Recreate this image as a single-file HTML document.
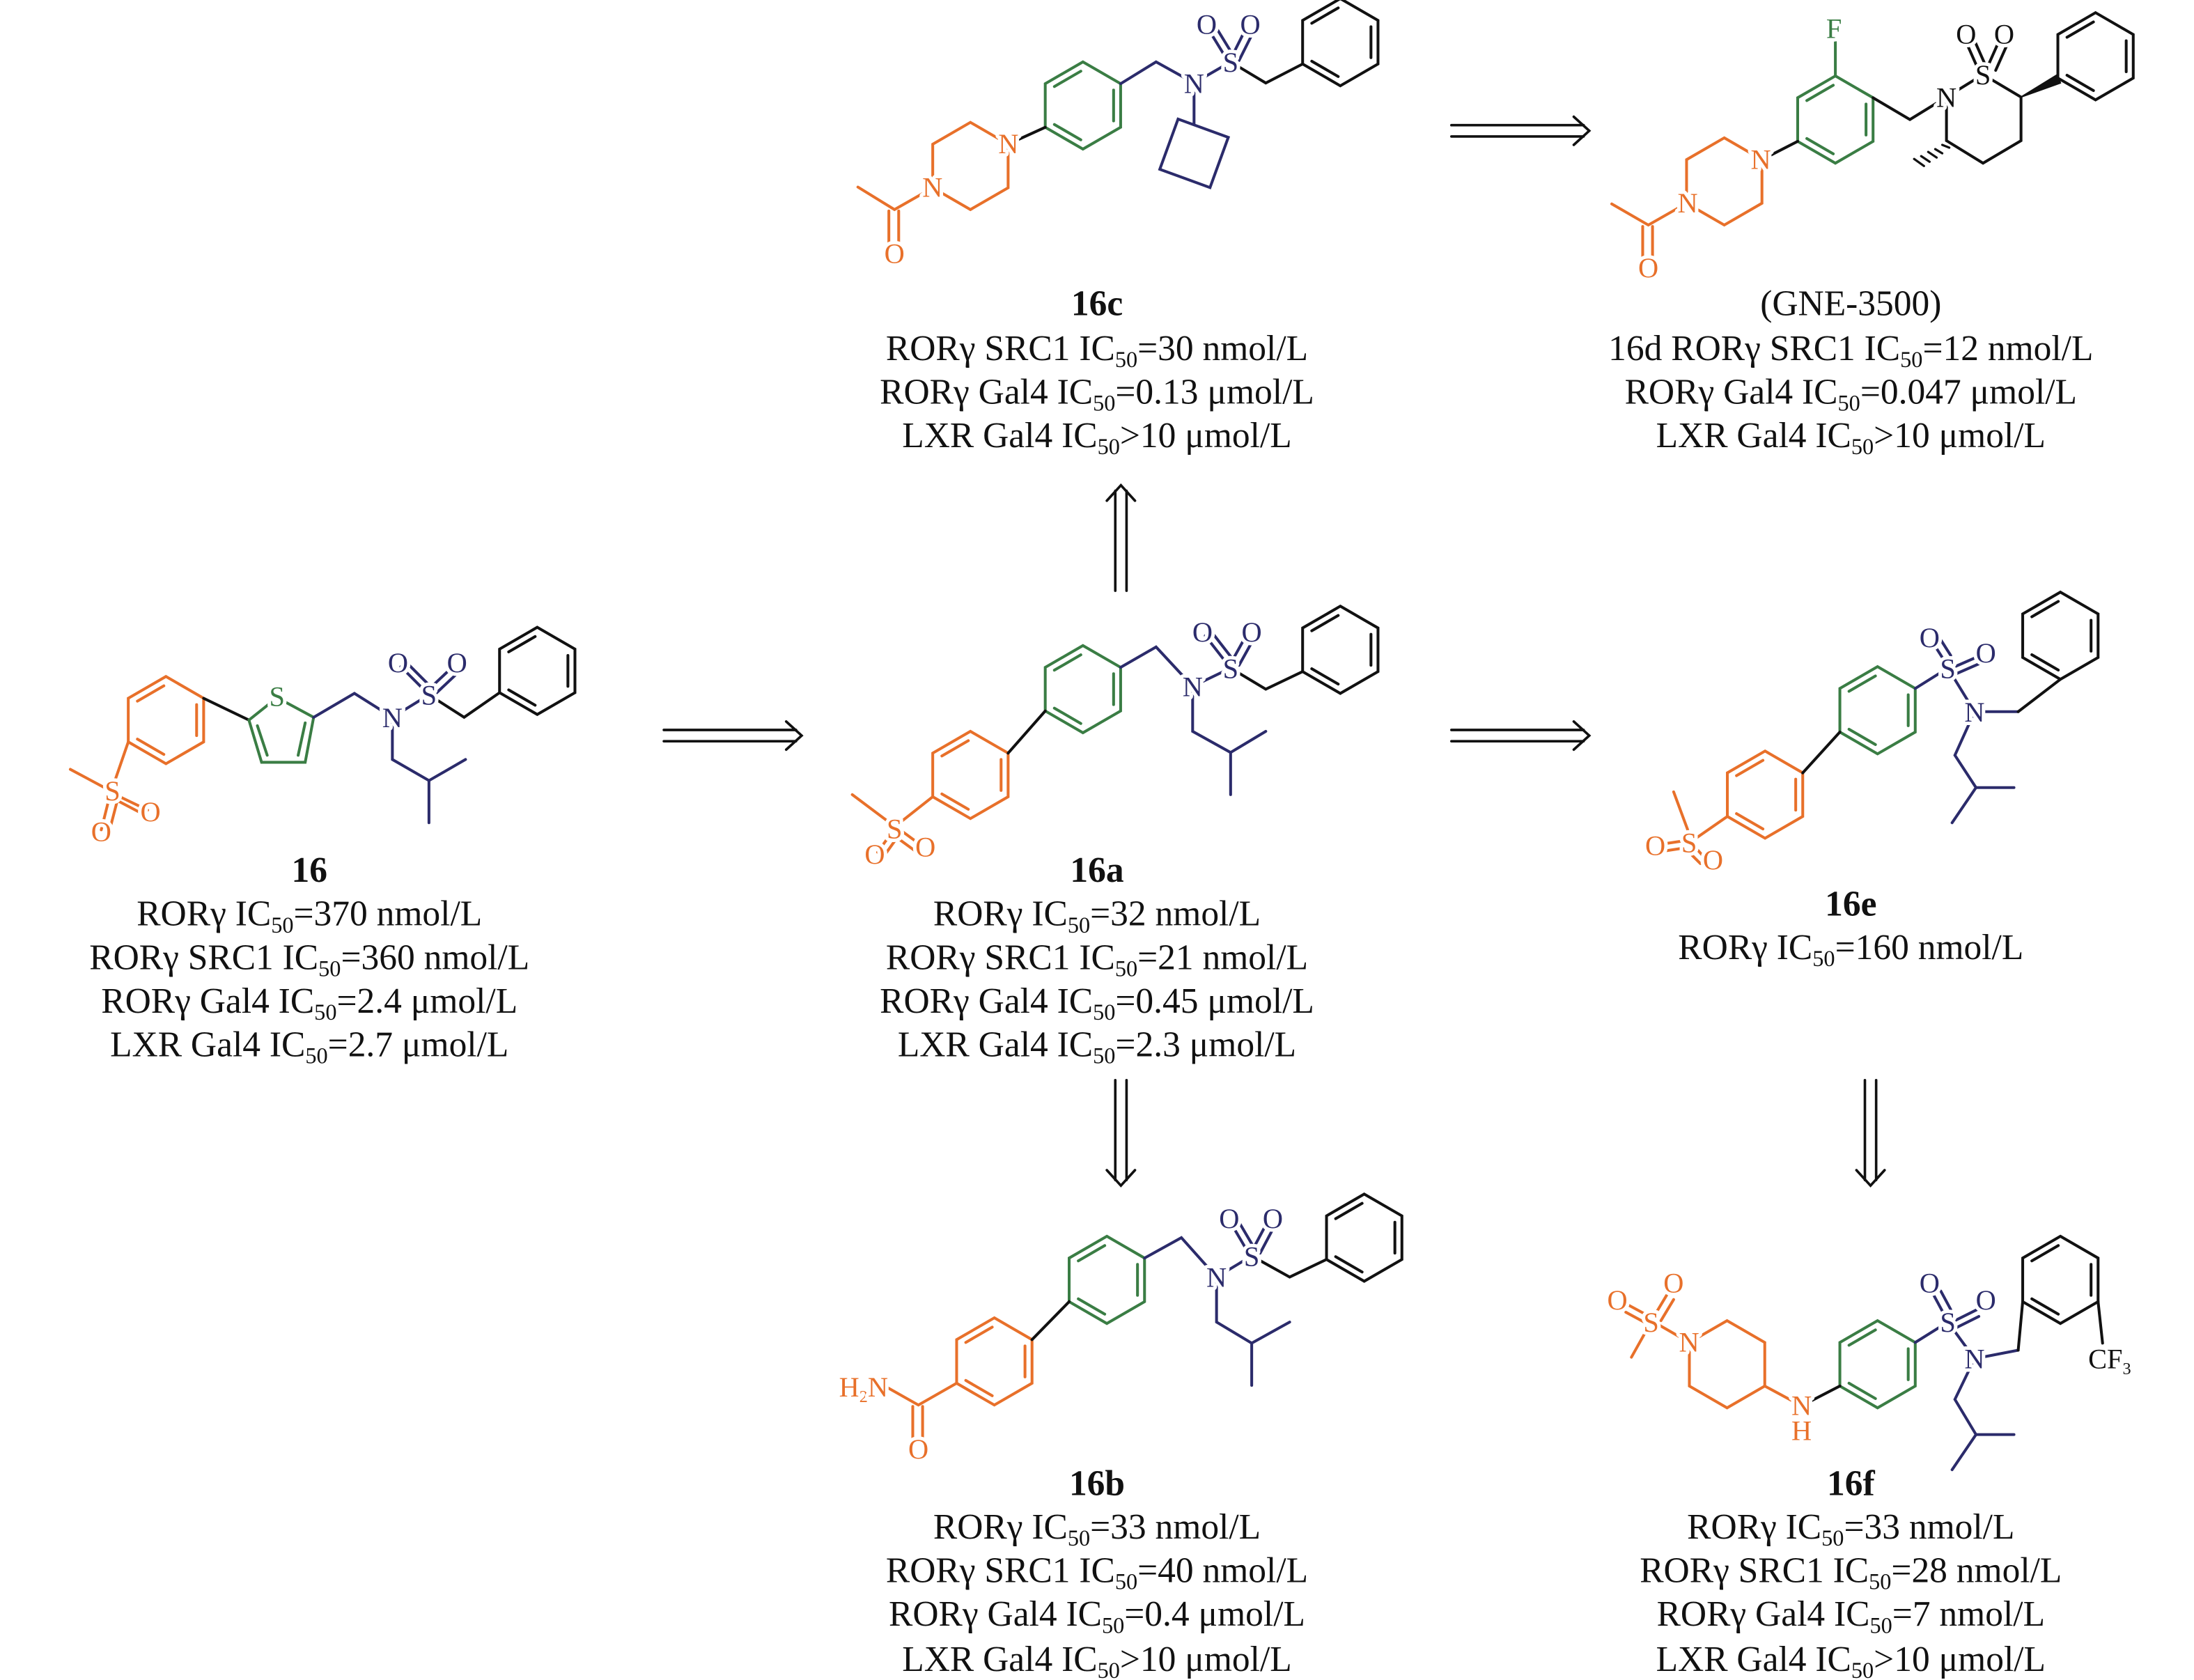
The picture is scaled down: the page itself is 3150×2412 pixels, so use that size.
<!DOCTYPE html>
<html><head><meta charset="utf-8"><style>
html,body{margin:0;padding:0;background:#fff;}
svg{display:block;}
.t{font-family:"Liberation Serif","Times New Roman",serif;font-size:25.5px;fill:#111;text-anchor:middle;}
.b{font-weight:bold;}
.a{font-family:"Liberation Serif",serif;font-size:20px;text-anchor:middle;paint-order:stroke;stroke:#fff;stroke-width:5px;stroke-linejoin:round;}
.o{fill:#E8702A;} .g{fill:#3A7D44;} .n{fill:#2B2B6B;} .k{fill:#111;}
</style></head><body>
<svg width="3150" height="2412" viewBox="0 0 1560 1194.5" xmlns="http://www.w3.org/2000/svg">
<defs>
<g id="bz" fill="none" stroke-width="2"><polygon points="0,-31 26.8,-15.5 26.8,15.5 0,31 -26.8,15.5 -26.8,-15.5"/><line x1="21.8" y1="-11" x2="21.8" y2="11"/><line x1="-1.5" y1="24.4" x2="-20.3" y2="13.5"/><line x1="-20.3" y1="-13.5" x2="-1.5" y2="-24.4"/></g>
<g id="hx" fill="none" stroke-width="2"><polygon points="0,-31 26.8,-15.5 26.8,15.5 0,31 -26.8,15.5 -26.8,-15.5"/></g>
</defs>
<g stroke-width="2" fill="none" stroke-linecap="round">
<g stroke="#111" stroke-width="1.8">
<line x1="472" y1="519" x2="566" y2="519"/><line x1="472" y1="527" x2="566" y2="527"/><polyline points="559,513 570,523 559,533"/>
<line x1="1032" y1="519" x2="1126" y2="519"/><line x1="1032" y1="527" x2="1126" y2="527"/><polyline points="1119,513 1130,523 1119,533"/>
<line x1="1032" y1="89" x2="1126" y2="89"/><line x1="1032" y1="97" x2="1126" y2="97"/><polyline points="1119,83 1130,93 1119,103"/>
<line x1="793" y1="420" x2="793" y2="349"/><line x1="801" y1="420" x2="801" y2="349"/><polyline points="787,356 797,345 807,356"/>
<line x1="793" y1="768" x2="793" y2="839"/><line x1="801" y1="768" x2="801" y2="839"/><polyline points="787,832 797,843 807,832"/>
<line x1="1326" y1="768" x2="1326" y2="839"/><line x1="1334" y1="768" x2="1334" y2="839"/><polyline points="1320,832 1330,843 1340,832"/>
</g>

<use href="#bz" x="118" y="512" stroke="#E8702A"/>
<g stroke="#E8702A"><line x1="91.2" y1="527.5" x2="80" y2="560"/><line x1="50" y1="547" x2="78" y2="562"/><line x1="80" y1="564" x2="105" y2="576"/><line x1="83" y1="569" x2="102" y2="579"/><line x1="78" y1="566" x2="72" y2="590"/><line x1="84" y1="567" x2="78" y2="590"/></g>
<line x1="144.8" y1="496.5" x2="177" y2="512" stroke="#111"/>
<g stroke="#3A7D44"><polygon points="177,512 197,496 223,510 217,542 186,542"/><line x1="183" y1="516" x2="190" y2="537"/><line x1="217" y1="514" x2="212" y2="537"/></g>
<g stroke="#2B2B6B"><polyline points="223,510 252,493 279,510 305,494"/><line x1="301" y1="490" x2="285" y2="474"/><line x1="306" y1="488" x2="290" y2="472"/><line x1="305" y1="490" x2="322" y2="474"/><line x1="310" y1="493" x2="327" y2="477"/><polyline points="279,510 279,540 305,555 305,585"/><line x1="305" y1="555" x2="331" y2="540"/></g>
<polyline points="305,494 330,510 355.2,492.5" stroke="#111"/>
<use href="#bz" x="382" y="477" stroke="#111"/>

<use href="#bz" x="690" y="551" stroke="#E8702A"/>
<use href="#bz" x="770" y="490" stroke="#3A7D44"/>
<line x1="716.8" y1="535.5" x2="743.2" y2="505.5" stroke="#111"/>
<g stroke="#E8702A"><line x1="663.2" y1="566.5" x2="636" y2="588"/><line x1="606" y1="565" x2="634" y2="586"/><line x1="634" y1="592" x2="624" y2="606"/><line x1="639" y1="594" x2="629" y2="608"/><line x1="640" y1="590" x2="655" y2="601"/><line x1="637" y1="595" x2="652" y2="606"/></g>
<g stroke="#2B2B6B"><polyline points="796.8,474.5 822,460 848,488 875,475"/><line x1="871" y1="470" x2="857" y2="452"/><line x1="876" y1="468" x2="862" y2="450"/><line x1="876" y1="470" x2="886" y2="452"/><line x1="881" y1="473" x2="891" y2="455"/><polyline points="848,488 848,520 875,535 875,565"/><line x1="875" y1="535" x2="900" y2="520"/></g>
<polyline points="875,475 900,490 926.2,477.5" stroke="#111"/>
<use href="#bz" x="953" y="462" stroke="#111"/>

<use href="#hx" x="690" y="118" stroke="#E8702A"/>
<g stroke="#E8702A"><polyline points="663.2,133.5 636,149 610,133"/><line x1="632" y1="150" x2="632" y2="176"/><line x1="639" y1="150" x2="639" y2="176"/></g>
<use href="#bz" x="770" y="75" stroke="#3A7D44"/>
<line x1="716.8" y1="102.5" x2="743.2" y2="90.5" stroke="#111"/>
<g stroke="#2B2B6B"><polyline points="796.8,59.5 822,44 849,59 875,44"/><line x1="871" y1="40" x2="860" y2="22"/><line x1="876" y1="38" x2="865" y2="20"/><line x1="876" y1="40" x2="885" y2="22"/><line x1="881" y1="43" x2="890" y2="25"/><line x1="849" y1="66" x2="849" y2="88"/><rect x="830" y="90" width="38" height="38" transform="rotate(20 849 109)"/></g>
<polyline points="875,44 900,59 926.2,45.5" stroke="#111"/>
<use href="#bz" x="953" y="30" stroke="#111"/>

<use href="#hx" x="1226" y="129" stroke="#E8702A"/>
<g stroke="#E8702A"><polyline points="1199.2,144.5 1172,160 1146,145"/><line x1="1168" y1="161" x2="1168" y2="186"/><line x1="1175" y1="161" x2="1175" y2="186"/></g>
<use href="#bz" x="1305" y="85" stroke="#3A7D44"/>
<line x1="1305" y1="54" x2="1305" y2="30" stroke="#3A7D44"/>
<line x1="1252.8" y1="113.5" x2="1278.2" y2="100.5" stroke="#111"/>
<g stroke="#111"><polyline points="1331.8,69.5 1358,85 1384,69 1410,53 1437,69 1437,100 1410,116 1384,100 1384,69"/><line x1="1406" y1="48" x2="1398" y2="30"/><line x1="1412" y1="47" x2="1404" y2="29"/><line x1="1413" y1="48" x2="1421" y2="30"/><line x1="1419" y1="50" x2="1427" y2="32"/></g>
<polygon points="1437,69 1463,53 1465,59" fill="#111" stroke="#111" stroke-width="1"/>
<g stroke="#111" stroke-width="1.6"><line x1="1381" y1="103" x2="1386" y2="105"/><line x1="1376" y1="106" x2="1381" y2="109"/><line x1="1371" y1="108" x2="1377" y2="112"/><line x1="1366" y1="111" x2="1372" y2="115"/><line x1="1361" y1="113" x2="1368" y2="118"/></g>
<use href="#bz" x="1490" y="40" stroke="#111"/>

<use href="#bz" x="1255" y="565" stroke="#E8702A"/>
<use href="#bz" x="1335" y="505" stroke="#3A7D44"/>
<line x1="1281.8" y1="549.5" x2="1308.2" y2="520.5" stroke="#111"/>
<g stroke="#E8702A"><line x1="1228.2" y1="580.5" x2="1203" y2="598"/><line x1="1190" y1="563" x2="1200" y2="590"/><line x1="1196" y1="598" x2="1183" y2="600"/><line x1="1197" y1="603" x2="1184" y2="605"/><line x1="1205" y1="602" x2="1213" y2="611"/><line x1="1201" y1="606" x2="1209" y2="614"/></g>
<g stroke="#2B2B6B"><line x1="1361.8" y1="489.5" x2="1385" y2="475"/><line x1="1382" y1="469" x2="1375" y2="458"/><line x1="1387" y1="466" x2="1380" y2="455"/><line x1="1390" y1="474" x2="1406" y2="467"/><line x1="1391" y1="479" x2="1407" y2="472"/><polyline points="1385,475 1404,506 1435,506"/><polyline points="1404,506 1390,537 1405,560 1388,585"/><line x1="1405" y1="560" x2="1432" y2="560"/></g>
<line x1="1435" y1="506" x2="1465" y2="483" stroke="#111"/>
<use href="#bz" x="1465" y="452" stroke="#111"/>

<use href="#bz" x="707" y="968" stroke="#E8702A"/>
<use href="#bz" x="787" y="910" stroke="#3A7D44"/>
<line x1="733.8" y1="952.5" x2="760.2" y2="925.5" stroke="#111"/>
<g stroke="#E8702A"><polyline points="680.2,983.5 653,999 630,986"/><line x1="649" y1="1000" x2="649" y2="1024"/><line x1="656" y1="1000" x2="656" y2="1024"/></g>
<g stroke="#2B2B6B"><polyline points="813.8,894.5 840,880 865,908 890,893"/><line x1="886" y1="888" x2="876" y2="871"/><line x1="891" y1="886" x2="881" y2="869"/><line x1="891" y1="888" x2="900" y2="871"/><line x1="896" y1="891" x2="905" y2="874"/><polyline points="865,908 865,940 890,955 890,985"/><line x1="890" y1="955" x2="917" y2="940"/></g>
<polyline points="890,893 917,908 943.2,895.5" stroke="#111"/>
<use href="#bz" x="970" y="880" stroke="#111"/>

<use href="#hx" x="1228" y="970" stroke="#E8702A"/>
<g stroke="#E8702A"><line x1="1201.2" y1="954.5" x2="1176" y2="940"/><line x1="1174" y1="940" x2="1160" y2="965"/><line x1="1176" y1="936" x2="1185" y2="921"/><line x1="1181" y1="939" x2="1190" y2="924"/><line x1="1171" y1="935" x2="1158" y2="928"/><line x1="1169" y1="940" x2="1156" y2="933"/><line x1="1254.8" y1="985.5" x2="1278" y2="998"/></g>
<use href="#bz" x="1335" y="970" stroke="#3A7D44"/>
<line x1="1284" y1="998" x2="1308.2" y2="985.5" stroke="#111"/>
<g stroke="#2B2B6B"><line x1="1361.8" y1="954.5" x2="1385" y2="940"/><line x1="1382" y1="934" x2="1375" y2="921"/><line x1="1387" y1="931" x2="1380" y2="918"/><line x1="1390" y1="939" x2="1406" y2="931"/><line x1="1391" y1="944" x2="1407" y2="936"/><polyline points="1385,940 1404,966 1435,960"/><polyline points="1404,966 1390,995 1405,1020 1388,1045"/><line x1="1405" y1="1020" x2="1432" y2="1020"/></g>
<line x1="1435" y1="960" x2="1438.2" y2="925.5" stroke="#111"/>
<use href="#bz" x="1465" y="910" stroke="#111"/>
<line x1="1491.8" y1="925.5" x2="1495" y2="955" stroke="#111"/>
</g>

<text class="a o" x="80" y="569">S</text><text class="a o" x="107" y="584">O</text><text class="a o" x="72" y="598">O</text>
<text class="a g" x="197" y="502">S</text>
<text class="a n" x="279" y="517">N</text><text class="a n" x="305" y="501">S</text><text class="a n" x="283" y="478">O</text><text class="a n" x="325" y="478">O</text>

<text class="a o" x="636" y="596">S</text><text class="a o" x="622" y="614">O</text><text class="a o" x="658" y="609">O</text>
<text class="a n" x="848" y="495">N</text><text class="a n" x="875" y="482">S</text><text class="a n" x="855" y="456">O</text><text class="a n" x="890" y="456">O</text>

<text class="a o" x="717" y="109">N</text><text class="a o" x="663" y="140">N</text><text class="a o" x="636" y="187">O</text>
<text class="a n" x="849" y="66">N</text><text class="a n" x="875" y="51">S</text><text class="a n" x="858" y="24">O</text><text class="a n" x="889" y="24">O</text>

<text class="a o" x="1252" y="120">N</text><text class="a o" x="1200" y="151">N</text><text class="a o" x="1172" y="197">O</text>
<text class="a g" x="1304" y="27">F</text>
<text class="a k" x="1384" y="76">N</text><text class="a k" x="1410" y="60">S</text><text class="a k" x="1398" y="31">O</text><text class="a k" x="1425" y="31">O</text>

<text class="a o" x="1201" y="606">S</text><text class="a o" x="1177" y="608">O</text><text class="a o" x="1218" y="618">O</text>
<text class="a n" x="1385" y="482">S</text><text class="a n" x="1372" y="460">O</text><text class="a n" x="1412" y="471">O</text><text class="a n" x="1404" y="513">N</text>

<text class="a o" x="614" y="993">H<tspan font-size="12" dy="4">2</tspan><tspan dy="-4">N</tspan></text><text class="a o" x="653" y="1037">O</text>
<text class="a n" x="865" y="915">N</text><text class="a n" x="890" y="900">S</text><text class="a n" x="874" y="873">O</text><text class="a n" x="905" y="873">O</text>

<text class="a o" x="1201" y="961">N</text><text class="a o" x="1174" y="947">S</text><text class="a o" x="1190" y="919">O</text><text class="a o" x="1150" y="931">O</text>
<text class="a o" x="1281" y="1006">N</text><text class="a o" x="1281" y="1024">H</text>
<text class="a n" x="1385" y="947">S</text><text class="a n" x="1372" y="919">O</text><text class="a n" x="1412" y="931">O</text><text class="a n" x="1404" y="973">N</text>
<text class="a k" x="1500" y="973">CF<tspan font-size="12" dy="4">3</tspan></text>

<text class="t b" x="220" y="627">16</text>
<text class="t" x="220" y="658">RORγ IC<tspan font-size="16" dy="5">50</tspan><tspan dy="-5">=370 nmol/L</tspan></text>
<text class="t" x="220" y="689">RORγ SRC1 IC<tspan font-size="16" dy="5">50</tspan><tspan dy="-5">=360 nmol/L</tspan></text>
<text class="t" x="220" y="720">RORγ Gal4 IC<tspan font-size="16" dy="5">50</tspan><tspan dy="-5">=2.4 μmol/L</tspan></text>
<text class="t" x="220" y="751">LXR Gal4 IC<tspan font-size="16" dy="5">50</tspan><tspan dy="-5">=2.7 μmol/L</tspan></text>

<text class="t b" x="780" y="627">16a</text>
<text class="t" x="780" y="658">RORγ IC<tspan font-size="16" dy="5">50</tspan><tspan dy="-5">=32 nmol/L</tspan></text>
<text class="t" x="780" y="689">RORγ SRC1 IC<tspan font-size="16" dy="5">50</tspan><tspan dy="-5">=21 nmol/L</tspan></text>
<text class="t" x="780" y="720">RORγ Gal4 IC<tspan font-size="16" dy="5">50</tspan><tspan dy="-5">=0.45 μmol/L</tspan></text>
<text class="t" x="780" y="751">LXR Gal4 IC<tspan font-size="16" dy="5">50</tspan><tspan dy="-5">=2.3 μmol/L</tspan></text>

<text class="t b" x="780" y="224">16c</text>
<text class="t" x="780" y="256">RORγ SRC1 IC<tspan font-size="16" dy="5">50</tspan><tspan dy="-5">=30 nmol/L</tspan></text>
<text class="t" x="780" y="287">RORγ Gal4 IC<tspan font-size="16" dy="5">50</tspan><tspan dy="-5">=0.13 μmol/L</tspan></text>
<text class="t" x="780" y="318">LXR Gal4 IC<tspan font-size="16" dy="5">50</tspan><tspan dy="-5">&gt;10 μmol/L</tspan></text>

<text class="t" x="1316" y="224">(GNE-3500)</text>
<text class="t" x="1316" y="256">16d RORγ SRC1 IC<tspan font-size="16" dy="5">50</tspan><tspan dy="-5">=12 nmol/L</tspan></text>
<text class="t" x="1316" y="287">RORγ Gal4 IC<tspan font-size="16" dy="5">50</tspan><tspan dy="-5">=0.047 μmol/L</tspan></text>
<text class="t" x="1316" y="318">LXR Gal4 IC<tspan font-size="16" dy="5">50</tspan><tspan dy="-5">&gt;10 μmol/L</tspan></text>

<text class="t b" x="1316" y="651">16e</text>
<text class="t" x="1316" y="682">RORγ IC<tspan font-size="16" dy="5">50</tspan><tspan dy="-5">=160 nmol/L</tspan></text>

<text class="t b" x="780" y="1063">16b</text>
<text class="t" x="780" y="1094">RORγ IC<tspan font-size="16" dy="5">50</tspan><tspan dy="-5">=33 nmol/L</tspan></text>
<text class="t" x="780" y="1125">RORγ SRC1 IC<tspan font-size="16" dy="5">50</tspan><tspan dy="-5">=40 nmol/L</tspan></text>
<text class="t" x="780" y="1156">RORγ Gal4 IC<tspan font-size="16" dy="5">50</tspan><tspan dy="-5">=0.4 μmol/L</tspan></text>
<text class="t" x="780" y="1188">LXR Gal4 IC<tspan font-size="16" dy="5">50</tspan><tspan dy="-5">&gt;10 μmol/L</tspan></text>

<text class="t b" x="1316" y="1063">16f</text>
<text class="t" x="1316" y="1094">RORγ IC<tspan font-size="16" dy="5">50</tspan><tspan dy="-5">=33 nmol/L</tspan></text>
<text class="t" x="1316" y="1125">RORγ SRC1 IC<tspan font-size="16" dy="5">50</tspan><tspan dy="-5">=28 nmol/L</tspan></text>
<text class="t" x="1316" y="1156">RORγ Gal4 IC<tspan font-size="16" dy="5">50</tspan><tspan dy="-5">=7 nmol/L</tspan></text>
<text class="t" x="1316" y="1188">LXR Gal4 IC<tspan font-size="16" dy="5">50</tspan><tspan dy="-5">&gt;10 μmol/L</tspan></text>
</svg>
</body></html>
